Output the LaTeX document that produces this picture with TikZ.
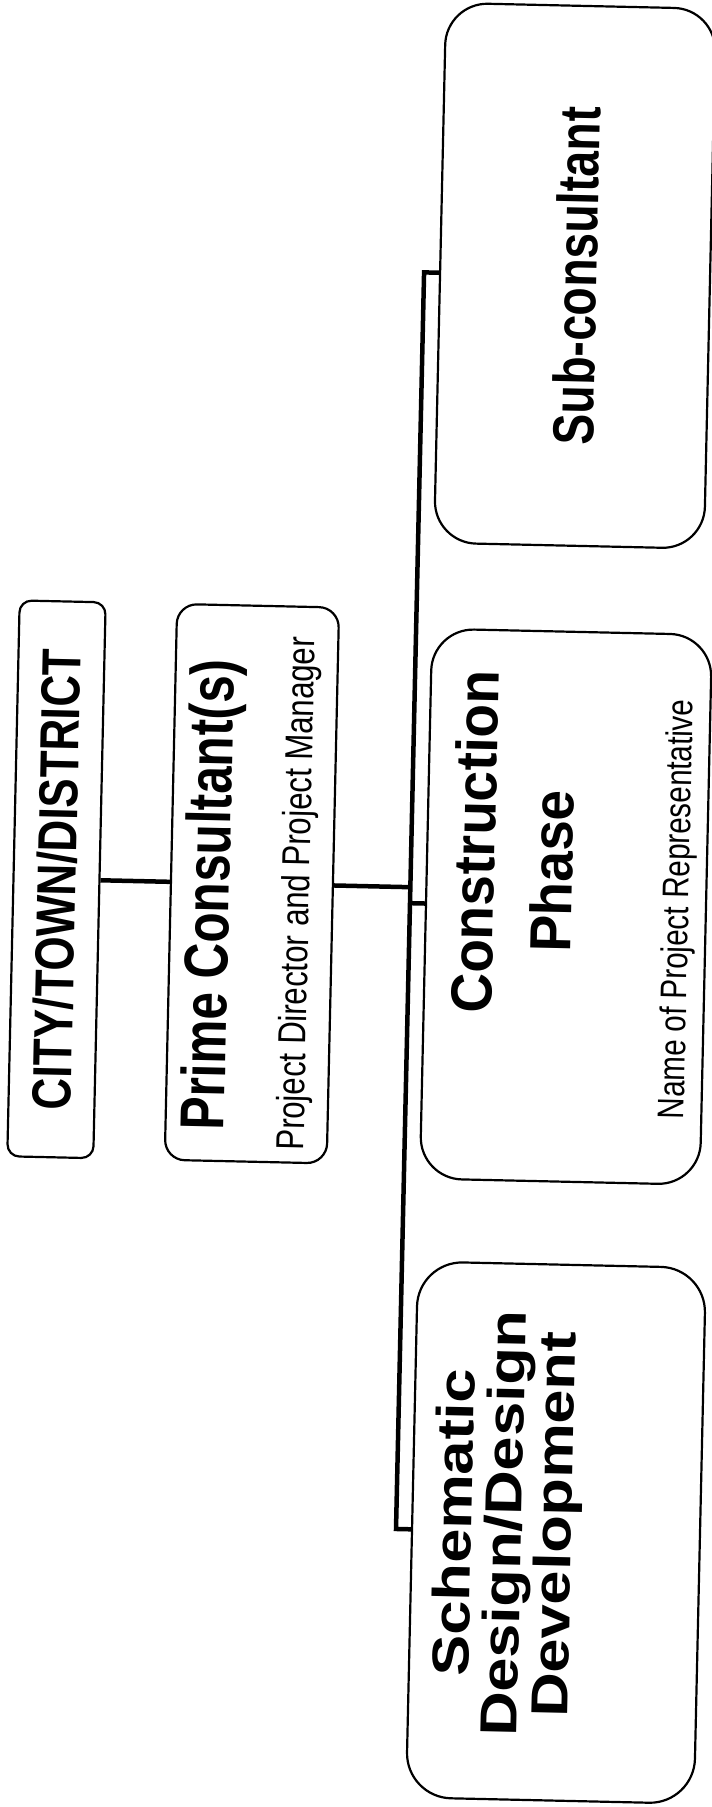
\documentclass[tikz,border=0pt]{standalone}
\usepackage{fontspec}
\setmainfont{Liberation Sans}
\newfontfamily\condsans[FakeStretch=0.8]{Liberation Sans}
\newfontfamily\midsans[FakeStretch=0.95]{Liberation Sans}
\newfontfamily\widesans[FakeStretch=1.18]{Liberation Sans}
\begin{document}
\begin{tikzpicture}[x=1pt,y=-1pt,
  box/.style={draw, line width=2.2pt, rounded corners=#1, inner sep=0pt},
  conn/.style={line width=4.5pt, line join=miter},
  bt/.style={rotate=90, inner sep=0pt},
  fsz/.style={font=\condsans\bfseries\fontsize{#1}{#1}\selectfont},
  rsz/.style={font=\condsans\fontsize{#1}{#1}\selectfont}]
\useasboundingbox (0,0) rectangle (712,1807);
\fill[white] (0,0) rectangle (712,1807);
\begin{scope}[rotate around={-1.28:(356,903)}, transform shape]
  % boxes
  \node[box=12pt, minimum width=86pt, minimum height=556pt] (city) at (56,886) {};
  \node[box=20pt, minimum width=162pt, minimum height=556pt] (prime) at (251.5,886) {};
  \node[box=42pt, minimum width=270pt, minimum height=540pt] (sub) at (561,271) {};
  \node[box=42pt, minimum width=280pt, minimum height=550pt] (constr) at (566,902) {};
  \node[box=45pt, minimum width=288pt, minimum height=536pt] (schem) at (570,1528) {};
  % labels
  \node[bt, fsz=55] (citylbl) at (56,886) {CITY/TOWN/DISTRICT};
  \node[bt, fsz=62] (primelbl) at (213,898) {Prime Consultant(s)};
  \node[bt, rsz=39] (pdlbl) at (299,895) {Project Director and Project Manager};
  \node[bt, fsz=58] (sublbl) at (562,271) {Sub-consultant};
  \node[bt, font=\midsans\bfseries\fontsize{58}{58}\selectfont] (conlbl) at (473,839) {Construction};
  \node[bt, font=\midsans\bfseries\fontsize{58}{58}\selectfont] (phaselbl) at (551,867) {Phase};
  \node[bt, rsz=37] (namelbl) at (679,902) {Name of Project Representative};
  \node[bt, align=center, font=\widesans\bfseries\fontsize{52}{50}\selectfont] (schlbl) at (522,1520)
    {Schematic\\Design/Design\\Development};
  % bus coordinates
  \coordinate (bt) at (410,271);
  \coordinate (bp) at (410,886);
  \coordinate (bc) at (410,902);
  \coordinate (bb) at (410,1528);
  % connectors
  \draw[conn] (city.east) -- (prime.west);
  \draw[conn] (prime.east) -- (bp);
  \draw[conn] (sub.west) -- (bt) -- (bb) -- (schem.west);
  \draw[conn] (constr.west) -- (bc);
\end{scope}
\end{tikzpicture}
\end{document}
